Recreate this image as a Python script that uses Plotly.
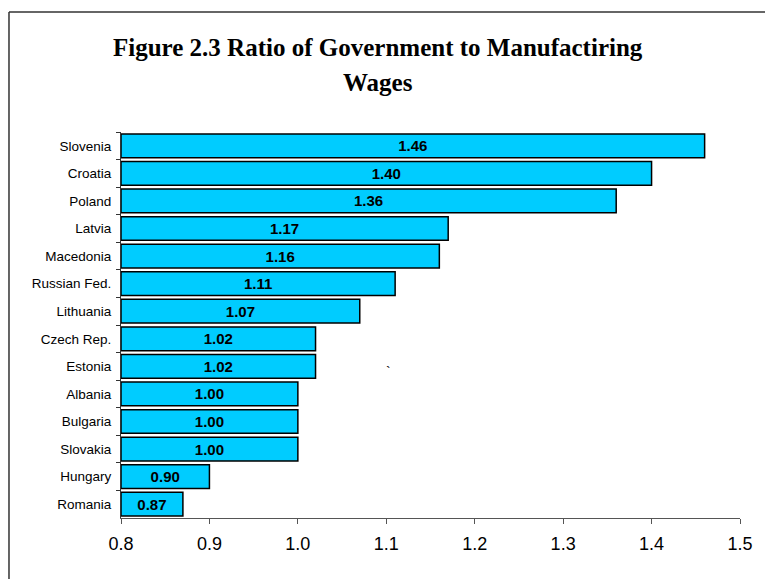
import plotly.graph_objects as go

countries = ["Slovenia", "Croatia", "Poland", "Latvia", "Macedonia", "Russian Fed.",
             "Lithuania", "Czech Rep.", "Estonia", "Albania", "Bulgaria", "Slovakia",
             "Hungary", "Romania"]
ratios = [1.46, 1.40, 1.36, 1.17, 1.16, 1.11, 1.07, 1.02, 1.02, 1.00, 1.00, 1.00, 0.90, 0.87]
x_ticks = [0.8, 0.9, 1.0, 1.1, 1.2, 1.3, 1.4, 1.5]
axis_start = 0.8

W, H = 765, 579
L, R, T, B = 121, 14, 132, 61
pw, ph = W - L - R, H - T - B


def px_x(p):
    return (p - L) / pw


def px_y(p):
    return (H - B - p) / ph


# bars are drawn from the axis start so the labels sit in the visible bar middle
fig = go.Figure(go.Bar(
    x=[v - axis_start for v in ratios],
    base=axis_start,
    y=countries,
    orientation="h",
    marker=dict(color="#00CCFF", line=dict(color="#000000", width=1.5)),
    width=0.86,
    text=[f"<b>{v:.2f}</b>" for v in ratios],
    textposition="inside",
    insidetextanchor="middle",
    textfont=dict(family="Liberation Sans, Arial, sans-serif", size=15, color="#000000"),
    customdata=ratios,
    hovertemplate="%{y}: %{customdata:.2f}<extra></extra>",
))

title_font = dict(family="Liberation Serif, Times New Roman, serif", size=25, color="#000000")

fig.update_layout(
    width=W, height=H,
    margin=dict(l=L, r=R, t=T, b=B),
    paper_bgcolor="white",
    plot_bgcolor="white",
    showlegend=False,
    xaxis=dict(
        range=[0.8, 1.5],
        tickvals=x_ticks,
        ticktext=[f"{v:.1f}" for v in x_ticks],
        showgrid=False,
        zeroline=False,
        showline=True, linecolor="#555555", linewidth=1,
        ticks="outside", ticklen=5, tickcolor="#555555",
        tickfont=dict(family="Liberation Sans, Arial, sans-serif", size=18, color="#000000"),
        ticklabelstandoff=4,
        fixedrange=True,
    ),
    yaxis=dict(
        autorange="reversed",
        showgrid=False,
        showline=True, linecolor="#333333", linewidth=1,
        ticks="outside", ticklen=4, tickcolor="#333333",
        tickson="boundaries",
        tickfont=dict(family="Liberation Sans, Arial, sans-serif", size=13.5, color="#000000"),
        ticklabelstandoff=6,
        fixedrange=True,
    ),
    shapes=[
        dict(type="line", xref="paper", yref="paper",
             x0=px_x(7), x1=px_x(7), y0=px_y(12), y1=px_y(H + 20),
             line=dict(color="#333333", width=1.5)),
        dict(type="line", xref="paper", yref="paper",
             x0=px_x(7), x1=px_x(W + 20), y0=px_y(12), y1=px_y(12),
             line=dict(color="#333333", width=1.5)),
    ],
    annotations=[
        dict(text="<b>Figure 2.3 Ratio of Government to Manufactiring</b>",
             x=px_x(383), y=px_y(47), xref="paper", yref="paper",
             xanchor="center", yanchor="middle", showarrow=False, font=title_font),
        dict(text="<b>Wages</b>",
             x=px_x(383), y=px_y(82), xref="paper", yref="paper",
             xanchor="center", yanchor="middle", showarrow=False, font=title_font),
        dict(text="`", x=1.103, y="Estonia", xref="x", yref="y",
             showarrow=False, font=dict(family="Liberation Sans, Arial", size=14, color="#000000"),
             yshift=-6),
    ],
)

fig.write_html("out.html")
